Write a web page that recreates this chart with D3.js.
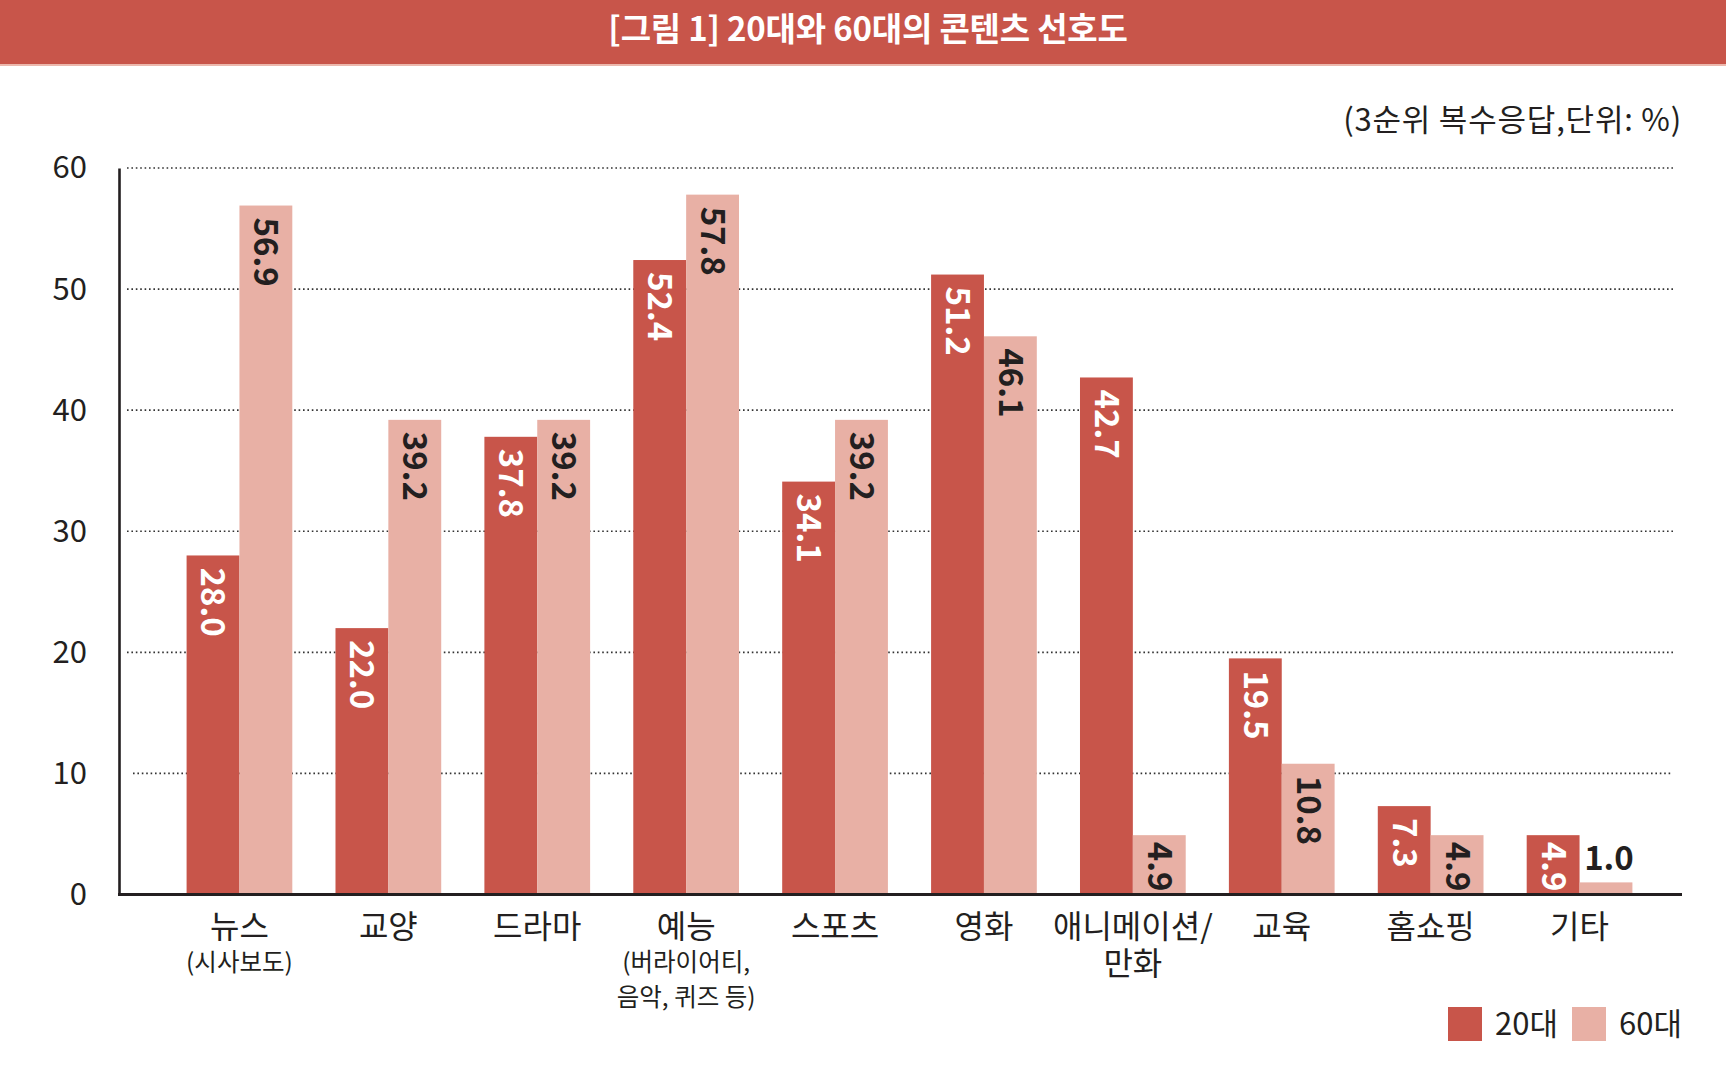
<!DOCTYPE html>
<meta charset="utf-8">
<style>

body {
  margin: 0;
  background: #fff;
  font-family: "Noto Sans CJK KR", "Noto Sans", sans-serif;
}

text {
  fill: #231f20;
}

.grid line {
  stroke: #333;
  stroke-width: 1.6;
  stroke-dasharray: 1.6, 2.8;
}

.axis path {
  stroke: #231f20;
  stroke-width: 2.6;
}

.value {
  font-size: 33px;
  font-weight: 700;
}

</style>
<body>
<script src="https://cdn.jsdelivr.net/npm/d3@7"></script>
<script>

var categories = ["뉴스", "교양", "드라마", "예능", "스포츠", "영화", "애니메이션/", "교육", "홈쇼핑", "기타"];
var subLabels = [["(시사보도)"], [], [], ["(버라이어티,", "음악, 퀴즈 등)"], [], [], ["만화"], [], [], []];
var series = ["20대", "60대"];
var values20 = [28.0, 22.0, 37.8, 52.4, 34.1, 51.2, 42.7, 19.5, 7.3, 4.9];
var values60 = [56.9, 39.2, 39.2, 57.8, 39.2, 46.1, 4.9, 10.8, 4.9, 1.0];
var yTicks = [0, 10, 20, 30, 40, 50, 60];

var W = 1726, H = 1070;
var colors = {"20대": "#c8554a", "60대": "#e8b0a5"};
var labelColors = {"20대": "#fff", "60대": "#231f20"};

var svg = d3.select("body").append("svg")
    .attr("width", W)
    .attr("height", H);

// title bar
svg.append("rect").attr("width", W).attr("height", 65).attr("fill", "#c8554a");
svg.append("rect").attr("y", 64).attr("width", W).attr("height", 2).attr("fill", "#ecb8ad");
svg.append("text")
    .attr("x", 868).attr("y", 29)
    .attr("dy", "0.35em")
    .attr("text-anchor", "middle")
    .style("fill", "#fff")
    .style("font-size", "33px")
    .style("font-weight", 700)
    .style("letter-spacing", "-0.2px")
    .text("[그림 1] 20대와 60대의 콘텐츠 선호도");

svg.append("text")
    .attr("x", 1682).attr("y", 120)
    .attr("dy", "0.35em")
    .attr("text-anchor", "end")
    .style("font-size", "31px")
    .style("letter-spacing", "0.8px")
    .text("(3순위 복수응답,단위: %)");

var y = d3.scaleLinear().domain([0, 60]).range([894.5, 168]);
var x = d3.scaleBand().domain(categories).range([165, 1654])
    .paddingInner(0.29).paddingOuter(0.145);
var xs = d3.scaleBand().domain(series).range([0, x.bandwidth()]);

var data = categories.map(function(c, i) {
  return {cat: c, vals: [{s: "20대", v: values20[i]}, {s: "60대", v: values60[i]}]};
});

// gridlines
svg.append("g").attr("class", "grid")
  .selectAll("line")
  .data(yTicks.filter(function(t) { return t > 0; }))
  .enter().append("line")
    .attr("x1", function(d) { return d === 10 ? 133 : 127; }).attr("x2", 1673)
    .attr("y1", function(d) { return y(d); })
    .attr("y2", function(d) { return y(d); });

// y axis
var yAxis = svg.append("g").attr("class", "axis")
    .attr("transform", "translate(119,0)")
    .call(d3.axisLeft(y).tickValues(yTicks).tickSize(0).tickSizeOuter(0).tickPadding(32));
yAxis.selectAll("text")
    .style("font-size", "31px")
    .style("font-family", "'Noto Sans CJK KR', sans-serif")
    .style("fill", "#231f20");

// bars
var group = svg.selectAll("g.group")
    .data(data)
  .enter().append("g")
    .attr("class", "group")
    .attr("transform", function(d) { return "translate(" + x(d.cat) + ",0)"; });

var bar = group.selectAll("g.bar")
    .data(function(d) { return d.vals; })
  .enter().append("g")
    .attr("class", "bar");

bar.append("rect")
    .attr("x", function(d) { return xs(d.s); })
    .attr("y", function(d) { return y(d.v); })
    .attr("width", xs.bandwidth())
    .attr("height", function(d) { return y(0) - y(d.v); })
    .attr("fill", function(d) { return colors[d.s]; });

// baseline
svg.append("line")
    .attr("x1", 118).attr("x2", 1682)
    .attr("y1", y(0)).attr("y2", y(0))
    .attr("stroke", "#231f20")
    .attr("stroke-width", 3);

// value labels, rotated inside the bar; pad shrinks on short bars
bar.filter(function(d) { return d.v >= 3; }).append("text")
    .attr("class", "value")
    .attr("dy", "0.35em")
    .style("fill", function(d) { return labelColors[d.s]; })
    .text(function(d) { return d.v.toFixed(1); })
    .attr("transform", function(d) {
      var len = this.getComputedTextLength();
      var pad = Math.min(12, y(0) - y(d.v) - len - 3);
      return "translate(" + (xs(d.s) + xs.bandwidth() / 2) + "," + (y(d.v) + pad) + ") rotate(90)";
    });

bar.filter(function(d) { return d.v < 3; }).append("text")
    .attr("class", "value")
    .attr("x", function(d) { return xs(d.s) + xs.bandwidth() / 2 + 3; })
    .attr("y", function(d) { return y(d.v) - 12; })
    .attr("text-anchor", "middle")
    .text(function(d) { return d.v.toFixed(1); });

// category labels
var lab = svg.selectAll("g.catlabel")
    .data(categories)
  .enter().append("g")
    .attr("class", "catlabel")
    .attr("transform", function(d) { return "translate(" + (x(d) + x.bandwidth() / 2) + ",0)"; });

lab.append("text")
    .attr("y", 927).attr("dy", "0.35em")
    .attr("text-anchor", "middle")
    .style("font-size", "32px")
    .text(function(d) { return d; });

lab.each(function(d, i) {
  var big = subLabels[i].length === 1 && subLabels[i][0] === "만화";
  d3.select(this).selectAll("text.sub")
      .data(subLabels[i])
    .enter().append("text")
      .attr("class", "sub")
      .attr("y", function(s, j) { return (big ? 964 : 962) + j * 35; })
      .attr("dy", "0.35em")
      .attr("text-anchor", "middle")
      .style("font-size", big ? "32px" : "24.5px")
      .text(function(s) { return s; });
});

// legend
var legend = svg.selectAll("g.legend")
    .data(series)
  .enter().append("g")
    .attr("class", "legend")
    .attr("transform", function(d, i) { return "translate(" + (1448 + i * 124) + ",1007)"; });

legend.append("rect")
    .attr("width", 34).attr("height", 34)
    .attr("fill", function(d) { return colors[d]; });

legend.append("text")
    .attr("x", 47).attr("y", 17).attr("dy", "0.35em")
    .style("font-size", "31px")
    .text(function(d) { return d; });

</script>
